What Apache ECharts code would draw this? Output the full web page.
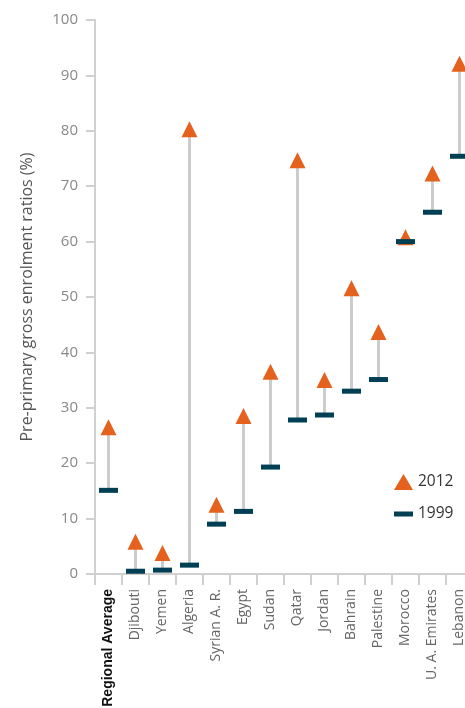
<!DOCTYPE html>
<html>
<head>
<meta charset="utf-8">
<script src="https://cdn.jsdelivr.net/npm/echarts@6/dist/echarts.min.js"></script>
<style>html,body{margin:0;padding:0;background:#fff;overflow:hidden}#c{width:465px;height:708px}</style>
</head>
<body>
<div id="c"></div>
<script>
const categories = ['Regional Average','Djibouti','Yemen','Algeria','Syrian A. R.','Egypt','Sudan','Qatar','Jordan','Bahrain','Palestine','Morocco','U. A. Emirates','Lebanon'];
const values2012 = [26.5, 5.8, 3.8, 80.3, 12.5, 28.5, 36.5, 74.7, 35.0, 51.6, 43.7, 60.8, 72.3, 92.1];
const values1999 = [15.1, 0.5, 0.7, 1.6, 9.0, 11.3, 19.3, 27.8, 28.7, 33.0, 35.1, 60.0, 65.3, 75.4];
const yTicks = [0, 10, 20, 30, 40, 50, 60, 70, 80, 90, 100];

const chart = echarts.init(document.getElementById('c'));
const rangeData = categories.map((c, i) => [i, values1999[i], values2012[i]]);
const font = 'Open Sans';

chart.setOption({
  animation: false,
  textStyle: { fontFamily: font },
  grid: { left: 95, width: 378, top: 20, bottom: 134, outerBoundsMode: 'none', containLabel: false },
  legend: {
    orient: 'vertical',
    left: 389, top: 469,
    itemWidth: 19, itemHeight: 16, itemGap: 16,
    textStyle: { fontSize: 15.5, color: '#333', fontFamily: font },
    data: [
      { name: '2012', icon: 'triangle' },
      { name: '1999', icon: 'path://M0,0 L19,0 L19,5 L0,5 Z' }
    ]
  },
  xAxis: {
    type: 'category',
    data: categories,
    boundaryGap: true,
    axisLine: { lineStyle: { color: '#d0d0d0', width: 2 } },
    axisTick: { show: true, length: 11, lineStyle: { color: '#d0d0d0', width: 2 } },
    axisLabel: {
      rotate: 90, interval: 0, margin: 15, fontSize: 14, color: '#666',
      formatter: function (v) { return v === 'Regional Average' ? '{b|' + v + '}' : v; },
      rich: { b: { fontWeight: 'bold', color: '#111', fontSize: 14, fontFamily: 'Liberation Sans' } }
    }
  },
  yAxis: {
    type: 'value', min: 0, max: 100, interval: 10,
    name: 'Pre-primary gross enrolment ratios (%)',
    nameLocation: 'middle', nameGap: 60, nameRotate: 90,
    nameTextStyle: { fontSize: 16, color: '#555' },
    axisLine: { show: true, lineStyle: { color: '#d0d0d0', width: 2 } },
    axisTick: { show: true, length: 9, lineStyle: { color: '#d0d0d0', width: 2 } },
    axisLabel: { fontSize: 15, color: '#888', margin: 17,
      formatter: function (v) { return yTicks.indexOf(v) >= 0 ? String(v) : ''; } },
    splitLine: { show: false }
  },
  series: [
    {
      type: 'custom', name: 'range', silent: true, z: 1,
      renderItem: function (params, api) {
        const p1 = api.coord([api.value(0), api.value(1)]);
        const p2 = api.coord([api.value(0), api.value(2)]);
        return { type: 'line', shape: { x1: p1[0], y1: p1[1], x2: p2[0], y2: p2[1] },
          style: { stroke: '#cccccc', lineWidth: 3 } };
      },
      data: rangeData
    },
    {
      type: 'scatter', name: '2012', symbol: 'triangle', symbolSize: [16, 16], z: 3,
      itemStyle: { color: '#E5611E', opacity: 1 },
      data: values2012
    },
    {
      type: 'scatter', name: '1999', symbol: 'rect', symbolSize: [19, 5], z: 4,
      itemStyle: { color: '#003F54', opacity: 1 },
      data: values1999
    }
  ]
});
</script>
</body>
</html>
